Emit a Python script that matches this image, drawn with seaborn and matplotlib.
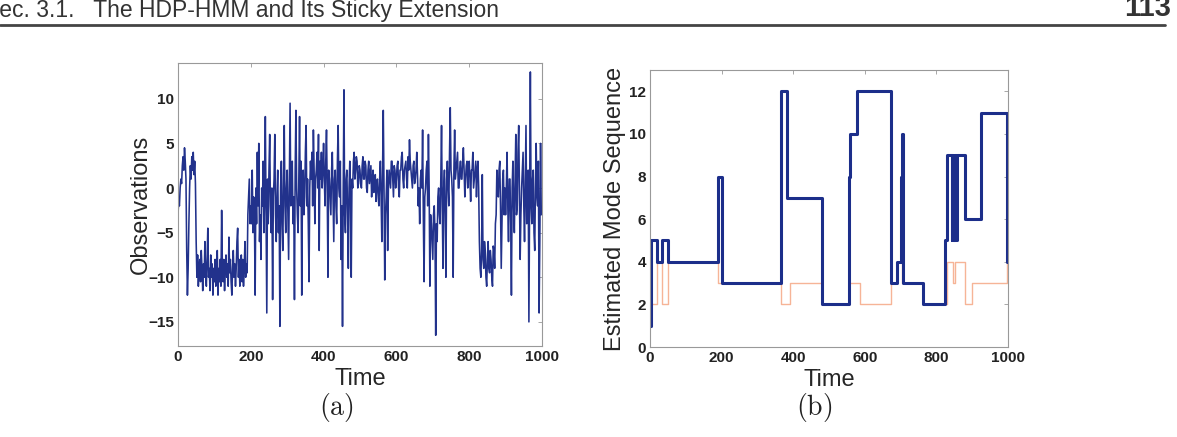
import numpy as np
import matplotlib.pyplot as plt
import seaborn as sns
from matplotlib.lines import Line2D

# =========================
# Data
# =========================
# (a) observations, one value every 2 time steps (t = 0, 2, ..., 998)
OBS_STEP = 2
observations = [
    # t 0-98
    -3, -1.5, -2, 0, 1, 0.5, 2.5, 3.5, 2, 4.5, 3,
    1, -7, -12, -9,
    -4, 0, 2.5, 1, 3.5, 2, 4, 1.5, 3, 0.5,
    -6, -10, -7.5, -11, -9,
    -8, -10.5, -7, -9, -11.5, -8.5, -10, -6, -9.5, -11,
    -8, -4.5, -10, -9, -11.5, -7.5, -10, -8.5, -12, -9,
    # t 100-198
    -10.5, -8, -11, -9.5, -7, -12, -9, -10.5, -8, -11,
    -2.5, -9, -10.5, -8, -11.5, -9, -7.5, -10, -8.5, -11,
    -5.5, -9.5, -8, -10.5, -12, -9, -7, -10, -8.5, -11,
    -9, -6, -4.5, -10, -8, -11, -9.5, -7.5, -10.5, -8,
    -11, -9, -6, -10, -8.5, -9.5, -3, -1, 1, -4,
    # t 200-298
    -2, -4, 2, -5, -1, -3, -12, 0, -4, 4,
    -2, 5, -6, -3, -8, 0, -2, 3, -5, -1,
    8, -3, -14, 1, -4, 2, 6, -2, -5, 0,
    -12.5, -1, 1, 6, -3, -6, -1, 2, -5, -2,
    -15.5, 0, 3, -4, -7, 1, 7, -2, -5, 0,
    # t 300-398
    2, -3, -8, 1, 9.5, -2, 0, 3, -4, -1,
    -12.5, 2, 8.7, 0, -3, -5, 1, 8, -2, 3,
    -12, 0, 2, -3, -1, 4, 7, -2, 1, -4,
    -10.5, 0, 3, 1, 4, -2, 6.5, 2, -4, 1,
    2, 4, 0, 6, -7, 3, 1, 4, 0, 2,
    # t 400-498
    5, 1, -2, 3, 6.5, 0, -10, 2, 1, -1,
    -3, 2, 4, -1, -6, 1, 2, -2, -4, 3,
    7, 0, -1, 3, -8, -2, -15.5, 0, 11, -3,
    -5, 1, 2, -3, -9, 0, 3, -2, -10, 1,
    0, 3, 4, 1, 2, 3.5, 3, 0, 0.5, 2.5,
    # t 500-598
    2, 0.5, 0, 2.5, 3.5, 1, 1, 3, 2.5, 0,
    -0.5, 2, 3, 0.5, 1.5, 2.5, -1, 1, 2, -0.5,
    0, 1.5, -1.5, 0.5, 1, -1, -2, 1, 3, -1,
    -6, 2, 8.7, 0, -10.3, -3, -1, 2, -7, 0,
    2, 1, 0, 3, 3, 1, -1, 2.5, 2, 0,
    # t 600-698
    1, 2.5, 3, 0, -1, 2, 2, 3.5, 4, 1,
    0, 2, 2.5, 3, 1, 0, 3.5, 2, 5.4, 3,
    2, 1, 0, 2.5, 3, 0.5, 1, 2, 4, 1.5,
    -2, 0, -4, 1, 2, 0, 6.5, -3, -10.5, -1,
    0, 2, 3, -2, 6, 0, -11, -3, -4, -6,
    # t 700-798
    -8, -3, -2, -5, -16.5, -4, -6, -1, 0, -3,
    -4, 1, 7, -2, -9, 0, 2, -3, -10, 1,
    3, 0, -2, 4, 9, 2, 1, -1, -10, 2,
    6.5, 1, 2, 3, 4, 0, 0, 2, 3, 1,
    1, 3, 4.5, 2, -1, 1, 2.5, 3, 0, 2,
    # t 800-898
    3, 1, -1.5, 2, 2, 4, 0, 1, 2, 3,
    -1, 2, 3, 0, -6, -9, -10, -7, 1.5, -8,
    -9, -6, -7, -10, -11, -8, -6, -9, -9.5, -7,
    -8, -10, -11, -6.5, -7, -9, -4, -3, 2, 0,
    -1, 2, 3, -2, -9, -4, 1, 2, -3, 0,
    # t 900-998
    -3, 0, 4, -2, -6, 1, 1, -4, -12, 0,
    3, -2, -5, 1, 6, -3, -2, 4, 7, -1,
    -8, -3, 0, 2, 4, -2, -6, 1, 7, -4,
    -3, 2, -15, 0, 13, -2, -4, 1, 2, -5,
    -7, 0, 5, -1, -2, 3, -14, -6, 5, -3,
]

# (b) estimated mode sequence (change points and values)
est_time = [0, 3, 20, 33, 51, 189, 200, 367, 383, 481, 556, 558, 579, 673, 691, 702, 704, 707,
            763, 825, 830, 842, 844, 846, 848, 850, 852, 854, 856, 879, 923, 997, 1000]
est_mode = [1, 5, 4, 5, 4, 8, 3, 12, 7, 2, 8, 10, 12, 3, 4, 8, 10, 3,
            2, 5, 9, 5, 9, 5, 9, 5, 9, 5, 9, 6, 11, 4, 4]

# true mode sequence (thin line underneath)
true_time = [0, 20, 33, 51, 189, 367, 390, 481, 556, 585, 673, 691, 705, 763, 830, 846, 853,
             879, 900, 997, 1000]
true_mode = [2, 4, 2, 4, 3, 2, 3, 2, 3, 2, 3, 4, 3, 2, 4, 3, 4, 2, 3, 4, 4]

obs_time = np.arange(len(observations)) * OBS_STEP

# =========================
# Figure
# =========================
sns.set_theme(style="white")
plt.rcParams["font.family"] = ["Liberation Sans", "DejaVu Sans"]
plt.rcParams["mathtext.fontset"] = "cm"

fig = plt.figure(figsize=(11.77, 4.37), dpi=100)
ax1 = fig.add_axes([0.1512, 0.2082, 0.3093, 0.6476])
ax2 = fig.add_axes([0.5523, 0.2059, 0.3042, 0.6340])

# (a) observations
sns.lineplot(x=obs_time, y=observations, ax=ax1, color="#22328c", lw=1.15,
             estimator=None, sort=False)
ax1.set_xlim(0, 1000)
ax1.set_ylim(-17.7, 14)
ax1.set_yticks([-15, -10, -5, 0, 5, 10])
ax1.set_ylabel("Observations", fontsize=17, labelpad=-3)

# (b) mode sequences
sns.lineplot(x=true_time, y=true_mode, ax=ax2, color="#f6b497", lw=1.0,
             drawstyle="steps-post", estimator=None, sort=False)
sns.lineplot(x=est_time, y=est_mode, ax=ax2, color="#1c2e8a", lw=2.2,
             drawstyle="steps-post", estimator=None, sort=False)
ax2.set_xlim(0, 1000)
ax2.set_ylim(0, 13)
ax2.set_yticks(range(0, 13, 2))
ax2.set_ylabel("Estimated Mode Sequence", fontsize=17, labelpad=2)

for ax in (ax1, ax2):
    ax.set_xticks(range(0, 1001, 200))
    ax.set_xlabel("Time", fontsize=17, labelpad=3)
    ax.tick_params(direction="in", length=3, width=0.6, top=True, right=True,
                   labelsize=11, colors="#999999", labelcolor="#222222", pad=3)
    for lab in ax.get_xticklabels() + ax.get_yticklabels():
        lab.set_fontweight("bold")
    for sp in ax.spines.values():
        sp.set_color("#999999")
        sp.set_linewidth(0.8)

# captions
fig.text(336 / 1177, 1 - 407 / 437, r"$\mathrm{(a)}$", fontsize=20,
         ha="center", va="center", color="#222222")
fig.text(814 / 1177, 1 - 407 / 437, r"$\mathrm{(b)}$", fontsize=20,
         ha="center", va="center", color="#222222")

# page header (cut at the top edge, as in the scan)
fig.text(-0.014, 1 - 17 / 437, "Sec. 3.1.   The HDP-HMM and Its Sticky Extension",
         fontsize=16.5, ha="left", va="baseline", color="#333333")
fig.text(1124 / 1177, 1 - 16 / 437, "113", fontsize=21, fontweight="bold",
         ha="left", va="baseline", color="#333333")
fig.add_artist(Line2D([0, 1165 / 1177], [1 - 25 / 437, 1 - 25 / 437],
                      transform=fig.transFigure, color="#444444", lw=2))

fig.savefig("out.png", dpi=100)
